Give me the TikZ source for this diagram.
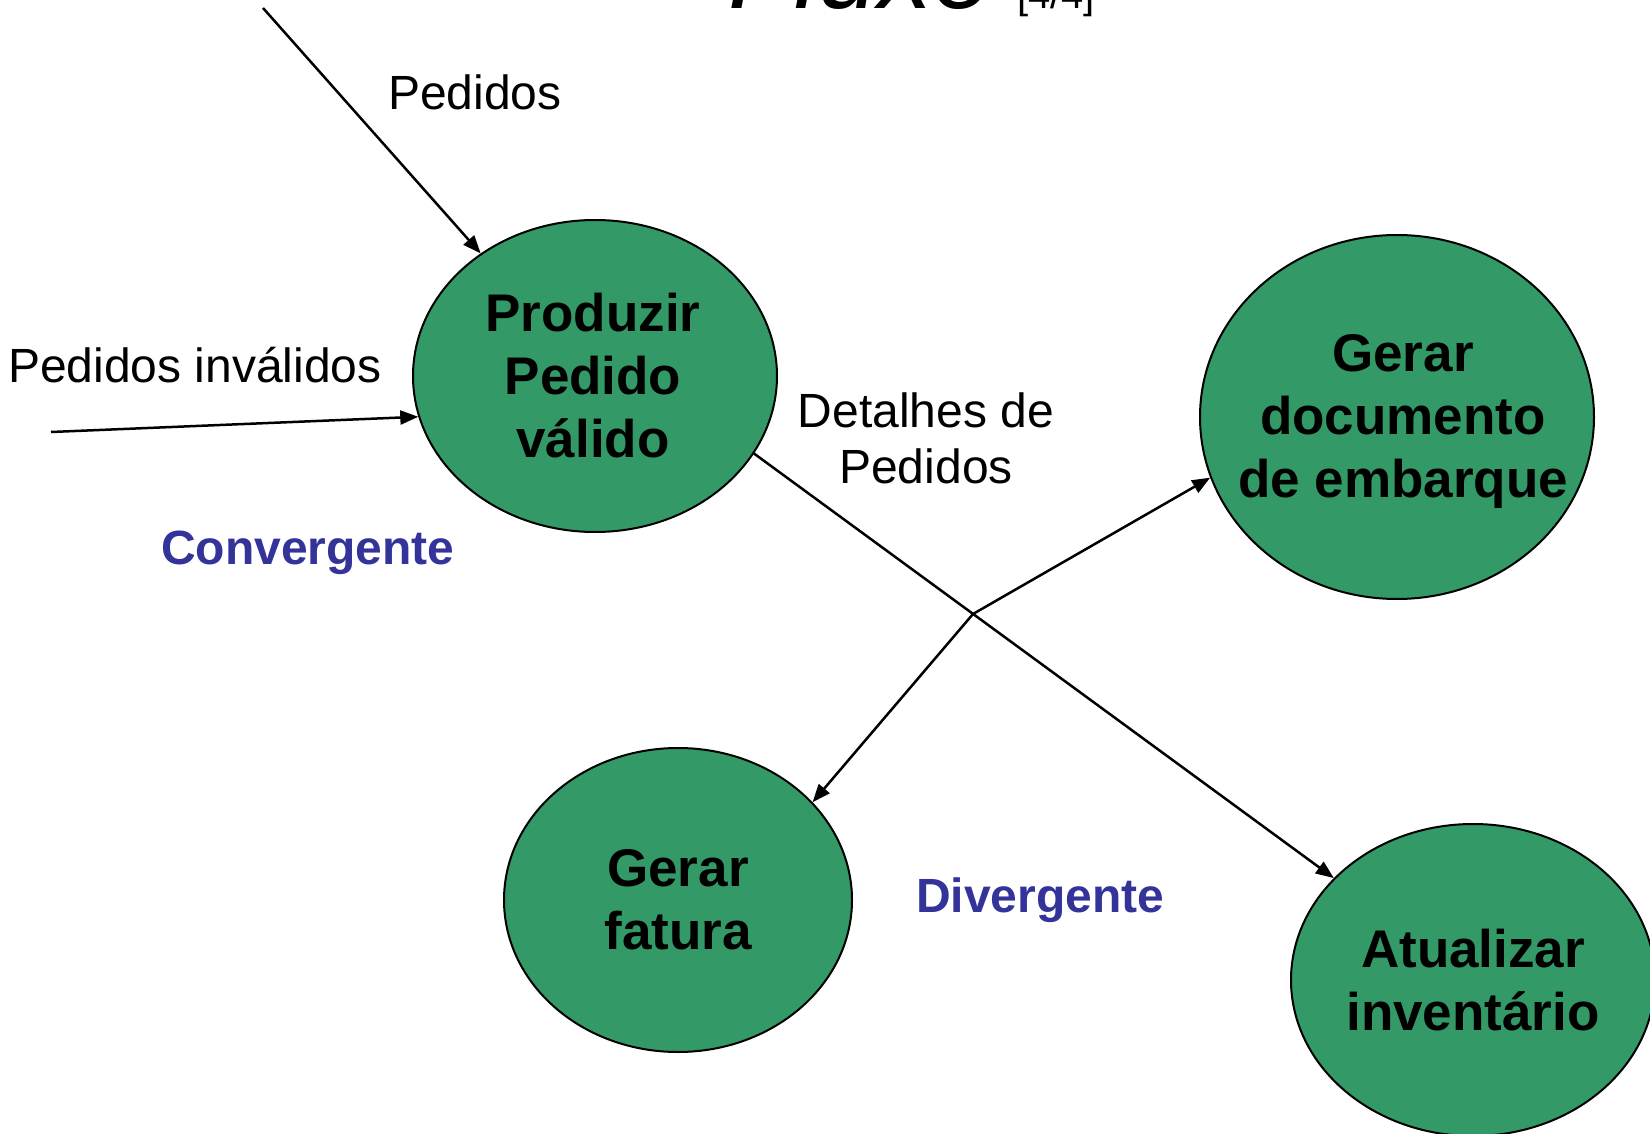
\documentclass[tikz,border=0pt]{standalone}
\usepackage{fontspec}
\setmainfont{Liberation Sans}
\usetikzlibrary{shapes.geometric,arrows.meta}
\definecolor{procgreen}{RGB}{51,153,102}
\definecolor{labelblue}{RGB}{51,51,153}
\begin{document}
\begin{tikzpicture}[x=1pt,y=-1pt,
  proc/.style={ellipse, draw=black, line width=2pt, fill=procgreen, inner sep=0pt},
  proctext/.style={font=\fontsize{53}{63}\selectfont\bfseries, align=center, text=black},
  lbl/.style={font=\fontsize{48}{56}\selectfont, anchor=base west, inner sep=0pt},
  blbl/.style={font=\fontsize{48}{56}\selectfont\bfseries, text=labelblue, anchor=base west, inner sep=0pt},
  flow/.style={-{Triangle[length=18pt,width=14pt]}, line width=2.5pt}]
\useasboundingbox (0,0) rectangle (1650,1134);
\clip (0,0) rectangle (1650,1134);
\fill[white] (0,0) rectangle (1650,1134);

% title (cut at the top)
\node[font=\fontsize{108}{120}\selectfont\itshape, anchor=base west, inner sep=0pt] (title) at (728,9) {Fluxo};
\node[font=\fontsize{40}{48}\selectfont, anchor=base west, inner sep=0pt] (tnum) at (1017,9) {[4/4]};

% processes
\node[proc, minimum width=364pt, minimum height=312pt] (prod) at (595,376) {};
\node[proc, minimum width=394pt, minimum height=364pt] (gdoc) at (1397,417) {};
\node[proc, minimum width=348pt, minimum height=304pt] (fat) at (678,900) {};
\node[proc, minimum width=364pt, minimum height=312pt] (atu) at (1473,980) {};

\node[proctext] (prodT) at (593,376) {Produzir\\Pedido\\válido};
\node[proctext] (gdocT) at (1403,421) {Gerar\\documento\\de embarque};
\node[proctext] (fatT) at (678,900) {Gerar\\fatura};
\node[proctext] (atuT) at (1473,980) {Atualizar\\inventário};

% labels
\node[lbl] (lPed) at (388,110) {Pedidos};
\node[lbl] (lInv) at (8,382) {Pedidos inválidos};
\node[blbl] (lConv) at (161,564) {Convergente};
\node[blbl] (lDiv) at (916,912) {Divergente};
\node[font=\fontsize{48}{56}\selectfont, align=center, inner sep=0pt] (lDet) at (926,438) {Detalhes de\\Pedidos};

% connectors
\coordinate (srcPed) at (263,8);
\coordinate (srcInv) at (51,432);
\coordinate (split) at (973,614);
\draw[flow] (srcPed) -- (prod.133);
\draw[flow] (srcInv) -- (prod.193);
\draw[flow] (prod.334) -- (atu);
\draw[flow] (split) -- (fat.36);
\draw[flow] (split) -- (gdoc.198);
\end{tikzpicture}
\end{document}
